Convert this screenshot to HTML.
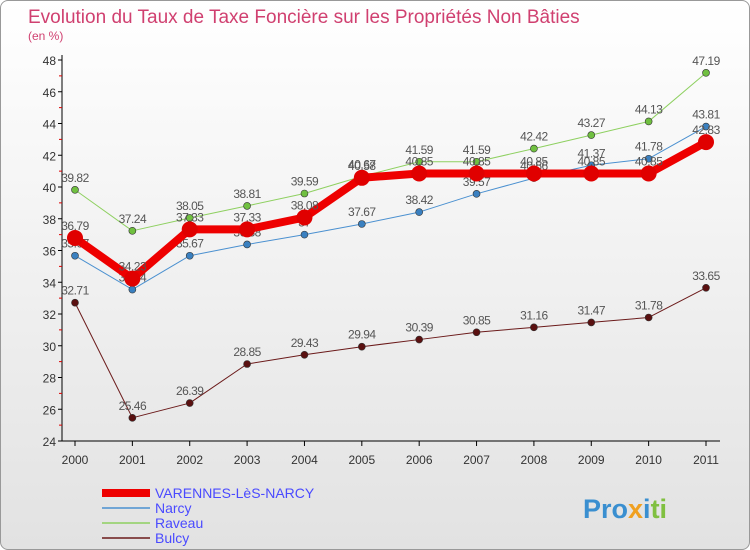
<!DOCTYPE html>
<html><head><meta charset="utf-8"><style>
body{margin:0;width:750px;height:550px;overflow:hidden;font-family:"Liberation Sans",sans-serif}
#wrap{position:absolute;left:0;top:0;width:748px;height:548px;border:1px solid #999;border-radius:8px;background:linear-gradient(#fff,#e2e2e2)}
</style></head><body>
<div id="wrap"></div>
<svg id="c" width="750" height="550" style="position:absolute;left:0;top:0">
<text x="28" y="23" font-size="19" fill="#d04070">Evolution du Taux de Taxe Foncière sur les Propriétés Non Bâties</text>
<text x="28" y="40" font-size="12" fill="#d04070">(en %)</text>
<g id="axes"></g><g id="series"></g><g id="legend"></g>
<text x="583" y="518" font-size="27" font-weight="bold"><tspan fill="#3a8fd0">Pro</tspan><tspan fill="#f0a020">x</tspan><tspan fill="#3a8fd0">i</tspan><tspan fill="#80c040">ti</tspan></text>
</svg>
<script>
const years=['2000','2001','2002','2003','2004','2005','2006','2007','2008','2009','2010','2011'];
const yTicks=[24,26,28,30,32,34,36,38,40,42,44,46,48];
const seriesNames=['VARENNES-LèS-NARCY','Narcy','Raveau','Bulcy'];
const varennes=[36.79,34.23,37.33,37.33,38.08,40.58,40.85,40.85,40.85,40.85,40.85,42.83];
const narcy=[35.67,33.54,35.67,36.38,37,37.67,38.42,39.57,40.56,41.37,41.78,43.81];
const raveau=[39.82,37.24,38.05,38.81,39.59,40.67,41.59,41.59,42.42,43.27,44.13,47.19];
const bulcy=[32.71,25.46,26.39,28.85,29.43,29.94,30.39,30.85,31.16,31.47,31.78,33.65];
const NS='http://www.w3.org/2000/svg';
const X=i=>75+i*(706-75)/11;
const Y=v=>441-(v-24)*(441-60)/24;
function mk(t,a,p){const e=document.createElementNS(NS,t);for(const k in a)e.setAttribute(k,a[k]);p.appendChild(e);return e;}
const ax=document.getElementById('axes');
let l=mk('line',{x1:62,y1:55,x2:62,y2:441,stroke:'#000'},ax);


l=mk('line',{x1:62,y1:441,x2:720,y2:441,stroke:'#000'},ax);


yTicks.forEach(v=>{
 mk('line',{x1:58,y1:Y(v),x2:62,y2:Y(v),stroke:'#000'},ax);
 if(v<48)mk('line',{x1:59,y1:Y(v+1),x2:62,y2:Y(v+1),stroke:'#d00'},ax);
 const t=mk('text',{x:56,y:Y(v)+5,'text-anchor':'end','font-size':12,fill:'#333'},ax);t.textContent=v;
 
 
});
years.forEach((y,i)=>{
 mk('line',{x1:X(i),y1:441,x2:X(i),y2:446,stroke:'#000'},ax);
 const t=mk('text',{x:X(i),y:464,'text-anchor':'middle','font-size':12,fill:'#333'},ax);t.textContent=y;
 
 
});
const sg=document.getElementById('series');
const defs=[[bulcy,'#6b1a1a','#5a1010',1,3.5,'bulcy'],[narcy,'#4a90d0','#3a80c0',1,3.5,'narcy'],[raveau,'#8ed060','#70c040',1,3.5,'raveau'],[varennes,'#ee0000','#e00000',8,8,'varennes']];
defs.forEach(([d,c,fc,w,r,n])=>{
 const g=mk('g',{},sg);
 
 
 const p=mk('polyline',{points:d.map((v,i)=>X(i)+','+Y(v)).join(' '),fill:'none',stroke:c,'stroke-width':w,'stroke-linejoin':'round'},g);
 
 
 d.forEach((v,i)=>{
  const ci=mk('circle',{cx:X(i),cy:Y(v),r:r,fill:fc,stroke:'#333','stroke-width':w>1?0:0.6},g);
  
  
  const t=mk('text',{x:X(i),y:Y(v)-8,'text-anchor':'middle','font-size':12,fill:'#555','letter-spacing':'-0.5'},g);
  t.textContent=v;
  
  
 });
});
const lg=document.getElementById('legend');
const lc=['#ee0000','#4a90d0','#8ed060','#6b1a1a'],lw=[8,1.5,1.5,1.5];
seriesNames.forEach((s,i)=>{
 const y=493+i*15;
 const g=mk('g',{},lg);
 
 
 mk('line',{x1:102,y1:y,x2:150,y2:y,stroke:lc[i],'stroke-width':lw[i]},g);
 const t=mk('text',{x:155,y:y+5,'font-size':14,fill:'#4a4aff'},g);t.textContent=s;
});
</script>
</body></html>
